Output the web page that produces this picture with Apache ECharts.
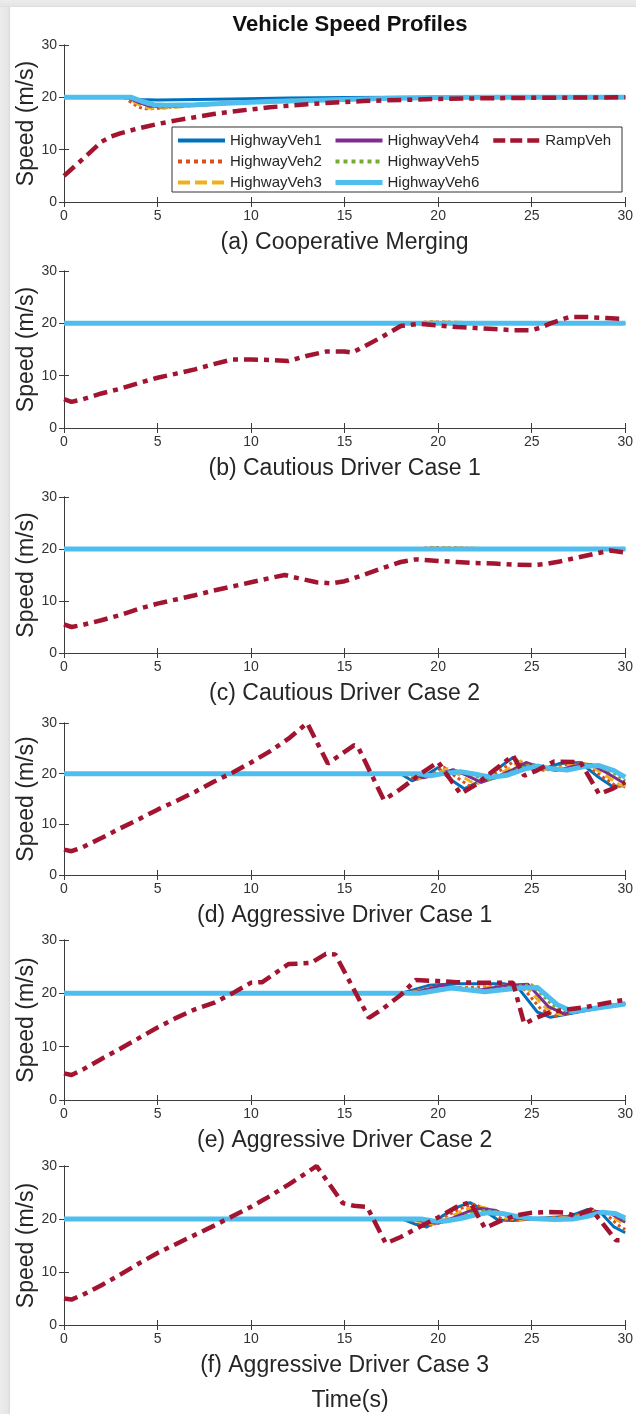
<!DOCTYPE html>
<html><head><meta charset="utf-8">
<script src="https://cdn.jsdelivr.net/npm/echarts@6/dist/echarts.min.js"></script>
<style>html,body{margin:0;padding:0;background:#fff}#c{width:636px;height:1414px}</style>
</head><body><div id="c"></div>
<script>
// ---------------- DATA ----------------
const seriesNames = ['HighwayVeh1','HighwayVeh2','HighwayVeh3','HighwayVeh4','HighwayVeh5','HighwayVeh6','RampVeh'];
const panelTitles = ['(a) Cooperative Merging','(b) Cautious Driver Case 1','(c) Cautious Driver Case 2',
  '(d) Aggressive Driver Case 1','(e) Aggressive Driver Case 2','(f) Aggressive Driver Case 3'];
const chartTitle = 'Vehicle Speed Profiles';
const xAxisTitle = 'Time(s)';
const yAxisTitle = 'Speed (m/s)';
const xTicks = [0,5,10,15,20,25,30];
const yTicks = [0,10,20,30];

// (a) Cooperative Merging
const hw1A = [[0,20],[3,20],[3.5,19.8],[4,19.6],[5,19.5],[7,19.6],[9,19.7],[12,19.85],[15,19.95],[18,20],[30,20]];
const hw2A = [[0,20],[3.2,20],[3.6,19],[4,18.1],[4.4,17.8],[5,17.9],[6,18.2],[8,18.7],[10,19.1],[12,19.4],[15,19.7],[18,19.9],[21,20],[30,20]];
const hw3A = [[0,20],[3.3,20],[3.8,19],[4.3,18.1],[4.7,17.9],[5.5,18],[7,18.4],[9,18.9],[11,19.3],[14,19.6],[17,19.85],[21,20],[30,20]];
const hw4A = [[0,20],[3.4,20],[4,19],[4.6,18.3],[5.2,18.2],[6,18.3],[8,18.7],[10,19.1],[13,19.5],[16,19.8],[20,20],[30,20]];
const hw5A = [[0,20],[3.5,20],[4.1,19.1],[4.8,18.3],[5.4,18.2],[6.5,18.4],[8.5,18.8],[11,19.2],[14,19.6],[17,19.85],[21,20],[30,20]];
const hw6A = [[0,20],[3.6,20],[4.2,19.2],[4.8,18.6],[5.5,18.5],[7,18.6],[9,18.9],[11,19.2],[14,19.5],[17,19.8],[20,19.95],[23,20],[30,20]];
const rampA = [[0,5],[1,8.2],[2,11.5],[2.5,12.5],[3,13.1],[4,14.1],[5,14.9],[6,15.6],[7,16.2],[8,16.8],[9,17.3],[10,17.7],[11,18.1],[12,18.4],[13,18.7],[14,18.9],[15,19.1],[16,19.3],[18,19.5],[20,19.7],[22,19.8],[25,19.9],[30,20]];

// (b) Cautious Driver Case 1
const hw1B = [[0,20],[30,20]];
const hw2B = [[0,20],[18.5,20],[19.5,20.3],[21,20.2],[22,20],[30,20]];
const hw3B = [[0,20],[18.7,20],[19.7,20.25],[21.2,20.2],[22.2,20],[30,20]];
const hw4B = [[0,20],[30,20]];
const hw5B = [[0,20],[30,20]];
const hw6B = [[0,20],[30,20]];
const rampB = [[0,5.5],[0.4,5],[1,5.5],[2,6.6],[3,7.5],[4,8.6],[5,9.6],[6,10.4],[7,11.2],[8,12.2],[9,13.1],[10,13.1],[11,13],[12,12.8],[13,13.8],[14,14.6],[15,14.6],[15.4,14.4],[16,15.5],[17,17.4],[18,19.5],[19,19.9],[20,19.6],[21,19.3],[22,19.1],[23,18.9],[24,18.7],[25,18.7],[25.5,19.2],[26,20],[27,21.2],[28,21.2],[29,21],[30,20.8]];

// (c) Cautious Driver Case 2
const hw1C = [[0,20],[30,20]];
const hw2C = [[0,20],[18.8,20],[19.6,20.3],[21.5,20.2],[22.3,20],[30,20]];
const hw3C = [[0,20],[19,20],[19.8,20.25],[21.7,20.2],[22.5,20],[30,20]];
const hw4C = [[0,20],[30,20]];
const hw5C = [[0,20],[30,20]];
const hw6C = [[0,20],[30,20]];
const rampC = [[0,5.5],[0.4,5],[1,5.4],[2,6.3],[3,7.3],[4,8.5],[5,9.5],[6,10.3],[7,11.1],[8,12],[9,12.8],[10,13.6],[11,14.4],[11.8,15],[12.5,14.4],[13.5,13.6],[14.3,13.4],[15,13.8],[16,15],[17,16.3],[18,17.5],[18.8,18],[20,17.7],[21,17.5],[22,17.3],[23,17.2],[24,17],[25,16.9],[25.7,17.1],[26.5,17.6],[27.5,18.4],[28.5,19.2],[29.2,19.7],[30,19.3]];

// (d) Aggressive Driver Case 1
const hw1D = [[0,20],[18,20],[18.6,18.6],[19.3,19.6],[20,21.2],[20.6,19],[21.4,17],[22.2,18.5],[23,20.5],[24,23.2],[24.8,21],[25.5,20.8],[26.5,22],[27.6,22.2],[28.5,19.5],[29.3,17.5],[30,17.6]];
const hw2D = [[0,20],[18.2,20],[18.8,18.8],[19.6,19.8],[20.3,21.3],[20.9,19.5],[21.7,17.5],[22.5,18.9],[23.3,20.6],[24.2,22.8],[25,21.2],[25.7,20.6],[26.8,21.8],[27.8,22],[28.7,19.6],[29.5,17.6],[30,17.4]];
const hw3D = [[0,20],[18.4,20],[19,19],[19.8,19.8],[20.5,21],[21.2,19.6],[22,17.9],[22.8,19],[23.6,20.6],[24.4,22.5],[25.2,21.3],[26,20.7],[27,21.6],[28,21.9],[28.9,19.8],[29.7,17.8],[30,17.6]];
const hw4D = [[0,20],[18.6,20],[19.2,19.2],[20,19.9],[20.8,20.8],[21.5,19.7],[22.3,18.3],[23.1,19.3],[24,20.8],[24.7,22.2],[25.5,21.2],[26.3,20.6],[27.3,21.5],[28.2,21.8],[29.1,20],[29.9,18.2],[30,18.1]];
const hw5D = [[0,20],[18.8,20],[19.4,19.4],[20.2,20],[21,20.6],[21.8,19.8],[22.6,18.7],[23.4,19.5],[24.3,20.9],[25,21.9],[25.8,21.1],[26.6,20.6],[27.6,21.4],[28.4,21.7],[29.3,20.3],[30,18.6]];
const hw6D = [[0,20],[19,20],[19.6,19.6],[20.4,20.1],[21.2,20.4],[22,19.9],[22.8,19.3],[23.7,19.7],[24.6,20.9],[25.3,21.5],[26,21],[26.9,20.7],[27.8,21.4],[28.6,21.6],[29.4,20.6],[30,19.3]];
const rampD = [[0,5],[0.4,4.7],[1,5.5],[2,7.3],[3,9.2],[4,11],[5,12.9],[6,14.6],[7,16.4],[8,18.4],[9,20.2],[10,22.2],[11,24.4],[12,26.9],[13,30],[14.1,22],[15.5,25.6],[15.7,25.4],[17.1,14.8],[18,17],[19,19.8],[20,22.3],[21.2,16],[22,17.8],[23,20.7],[24,23.6],[24.6,19.6],[25.2,20.5],[26.2,22.4],[27.6,22.3],[28.6,16],[29.3,17],[30,18.3]];

// (e) Aggressive Driver Case 2
const hw1E = [[0,20],[18,20],[19.5,21.5],[21,21.8],[23.5,21.8],[24.2,21.4],[25.3,16.5],[26,15.5],[28,16.8],[30,18.2]];
const hw2E = [[0,20],[18.2,20],[19.8,21.4],[21,21],[22.5,21.2],[24.4,21.6],[25.5,17],[26.3,15.8],[28,17],[30,18.2]];
const hw3E = [[0,20],[18.4,20],[20,21.2],[21.5,20.6],[23,21.3],[24.6,21.6],[25.7,17.4],[26.5,16],[28,17],[30,18.1]];
const hw4E = [[0,20],[18.6,20],[20.2,21.5],[22,20.5],[23.5,21.4],[24.8,21.7],[25.9,17.5],[26.7,16.2],[28,17.1],[30,18.1]];
const hw5E = [[0,20],[18.8,20],[20.5,21],[22.5,20.4],[24,21.3],[25,21.6],[26.1,17.8],[27,16.4],[30,18]];
const hw6E = [[0,20],[19,20],[20.7,21],[22.5,20.3],[24.3,21],[25.3,21.1],[26.4,17.8],[27.2,16.6],[30,18]];
const rampE = [[0,5],[0.4,4.7],[1,5.7],[2,7.7],[3,9.6],[4,11.6],[5,13.6],[6,15.4],[7,17],[8,18.2],[9,20],[10,22],[10.6,22.1],[11.3,23.8],[12,25.5],[12.7,25.6],[13.2,25.7],[14,27.4],[14.5,27.3],[16.3,15.4],[17,17],[18,19.7],[18.8,22.5],[20,22.3],[21,22.1],[22,22],[23,22],[24,22],[24.6,14.3],[25.3,15.5],[26,16.5],[27,17],[28,17.5],[29,18.2],[30,18.8]];

// (f) Aggressive Driver Case 3
const hw1F = [[0,20],[18.1,20],[18.8,19],[19.4,18.5],[20.2,20.5],[21,22.2],[21.7,23.1],[22.5,21.5],[23.2,19.8],[24,19.7],[25,20],[26,20.3],[27,20.5],[28,21.8],[28.7,21.2],[29.4,18.5],[30,17.4]];
const hw2F = [[0,20],[18.3,20],[19,19.2],[19.6,18.8],[20.4,20.5],[21.2,22],[21.9,22.8],[22.7,21.7],[23.4,20],[24.2,19.8],[25.2,20.1],[26.2,20.2],[27.2,20.5],[28.1,21.6],[28.9,21.2],[29.6,18.9],[30,18]];
const hw3F = [[0,20],[18.5,20],[19.2,19.3],[19.8,19],[20.6,20.3],[21.4,21.7],[22.1,22.4],[22.9,21.8],[23.6,20.2],[24.4,19.9],[25.4,20],[26.4,20.2],[27.4,20.4],[28.2,21.5],[29,21.2],[29.8,19.3],[30,18.8]];
const hw4F = [[0,20],[18.7,20],[19.4,19.4],[20,19.2],[20.8,20.2],[21.6,21.4],[22.3,22],[23.1,21.6],[23.8,20.4],[24.6,20],[25.6,20],[26.6,20.1],[27.6,20.4],[28.4,21.4],[29.2,21.1],[30,19.4]];
const hw5F = [[0,20],[18.9,20],[19.6,19.5],[20.2,19.4],[21,20.1],[21.8,21.1],[22.5,21.6],[23.3,21.3],[24,20.5],[24.8,20],[26,19.9],[27,20.1],[27.8,20.4],[28.6,21.3],[29.4,21],[30,19.8]];
const hw6F = [[0,20],[19.1,20],[19.8,19.6],[20.4,19.6],[21.2,20.1],[22,20.8],[22.7,21.2],[23.5,21],[24.2,20.5],[25,20.1],[26.2,19.9],[27.2,20],[28,20.5],[28.8,21.3],[29.5,21],[30,20.2]];
const rampF = [[0,5],[0.4,4.8],[1,5.7],[2,7.5],[3,9.5],[4,11.6],[5,13.6],[6,15.3],[7,17],[8,18.7],[9,20.5],[10,22.3],[11,24.3],[12,26.5],[13,28.8],[13.5,30],[14.9,23],[15.5,22.5],[16.2,22.3],[17.2,15.4],[18,16.6],[19,18.5],[20,20.3],[21,22.3],[21.7,23.2],[22.5,18.3],[23.3,19.6],[24.2,20.7],[25,21.2],[26,21.3],[26.8,21.2],[27.3,20.6],[28.2,21.8],[29.5,16],[30,16]];

const panels = [
  [hw1A,hw2A,hw3A,hw4A,hw5A,hw6A,rampA],
  [hw1B,hw2B,hw3B,hw4B,hw5B,hw6B,rampB],
  [hw1C,hw2C,hw3C,hw4C,hw5C,hw6C,rampC],
  [hw1D,hw2D,hw3D,hw4D,hw5D,hw6D,rampD],
  [hw1E,hw2E,hw3E,hw4E,hw5E,hw6E,rampE],
  [hw1F,hw2F,hw3F,hw4F,hw5F,hw6F,rampF]
];

// ---------------- STYLE / LAYOUT ----------------
const FONT = '"Liberation Sans", Arial, Helvetica, sans-serif';
const TXT = '#262626';
const AX = '#3c3c3c';
const styles = [
  {color:'#0072BD', width:3, type:'solid', lw:4},
  {color:'#D95319', width:3, type:'dotted', lw:4},
  {color:'#EDB120', width:3, type:[9,5], lw:4},
  {color:'#7E2F8E', width:3, type:'solid', lw:4},
  {color:'#77AC30', width:3, type:'dotted', lw:4},
  {color:'#4DBEEE', width:5, type:'solid', lw:5},
  {color:'#A2142F', width:4.5, type:[14,6,5,6], lw:4.5}
];
const legendDash = [null, [4,4], [12,5], null, [4,4], null, [12,5]];
const panelTops = [45, 271, 497, 723, 940, 1166];
const panelHeights = [157, 157, 156, 152, 160, 159];
const gridLeft = 64, gridRight = 9;

const grid = [], xAxis = [], yAxis = [], series = [];
panels.forEach((p, i) => {
  grid.push({left: gridLeft, right: gridRight, top: panelTops[i], height: panelHeights[i]});
  const common = {
    gridIndex: i, type: 'value', min: xTicks[0], max: xTicks[xTicks.length-1], interval: xTicks[1]-xTicks[0],
    axisLine: {lineStyle: {color: AX, width: 1}},
    axisTick: {inside: true, length: 5, lineStyle: {color: AX}},
    splitLine: {show: false}
  };
  xAxis.push(Object.assign({}, common, {
    position: 'bottom',
    axisLabel: {color: '#333', fontSize: 14, fontFamily: FONT, margin: 7},
    name: panelTitles[i], nameLocation: 'middle', nameGap: 29, nameMoveOverlap: false,
    nameTextStyle: {color: TXT, fontSize: 23, fontFamily: FONT}
  }));
  xAxis.push(Object.assign({}, common, {position: 'top', axisLabel: {show: false}}));
  const ycommon = {
    gridIndex: i, type: 'value', min: yTicks[0], max: yTicks[yTicks.length-1], interval: yTicks[1]-yTicks[0],
    axisLine: {show: true, lineStyle: {color: AX, width: 1}},
    axisTick: {show: true, inside: true, length: 5, lineStyle: {color: AX}},
    splitLine: {show: false}
  };
  yAxis.push(Object.assign({}, ycommon, {
    position: 'left',
    axisLabel: {color: '#333', fontSize: 14, fontFamily: FONT, margin: 7},
    name: yAxisTitle, nameLocation: 'middle', nameGap: 26, nameMoveOverlap: false,
    nameTextStyle: {color: TXT, fontSize: 23, fontFamily: FONT}
  }));
  yAxis.push(Object.assign({}, ycommon, {position: 'right', axisLabel: {show: false}}));
  p.forEach((d, k) => {
    series.push({
      name: seriesNames[k], type: 'line', xAxisIndex: 2*i, yAxisIndex: 2*i,
      data: d, symbol: 'none', showSymbol: false, clip: true,
      lineStyle: {color: styles[k].color, width: styles[k].width, type: styles[k].type, cap: 'butt'},
      itemStyle: {color: styles[k].color},
      z: 2 + k * 0.01
    });
  });
});

const legendItem = k => ({
  name: seriesNames[k],
  itemStyle: {opacity: 0},
  lineStyle: {color: styles[k].color, width: styles[k].lw, type: legendDash[k] || 'solid', opacity: 1}
});
const legendCommon = {
  orient: 'vertical', selectedMode: false, padding: 0, itemGap: 6,
  itemWidth: 47, itemHeight: 14,
  textStyle: {color: TXT, fontSize: 15, fontFamily: FONT},
  top: 133, z: 10
};
const legend = [
  Object.assign({}, legendCommon, {left: 176, data: [0,1,2].map(legendItem)}),
  Object.assign({}, legendCommon, {left: 333, data: [3,4,5].map(legendItem)}),
  Object.assign({}, legendCommon, {left: 491, data: [6].map(legendItem)})
];

const chart = echarts.init(document.getElementById('c'), null, {renderer: 'canvas'});
chart.setOption({
  animation: false,
  backgroundColor: '#fff',
  title: [
    {text: chartTitle, left: 345, top: 9, textAlign: 'center',
     textStyle: {fontSize: 22, fontWeight: 'bold', color: '#111', fontFamily: FONT}},
    {text: xAxisTitle, left: 345, top: 1384, textAlign: 'center',
     textStyle: {fontSize: 23, fontWeight: 'normal', color: TXT, fontFamily: FONT}}
  ],
  grid, xAxis, yAxis, series, legend,
  graphic: [
    {type: 'rect', shape: {x: 172, y: 127, width: 450, height: 65},
     style: {fill: '#fff', stroke: '#333', lineWidth: 1}, z: 5},
    {type: 'rect', shape: {x: 0, y: 0, width: 10, height: 1414},
     style: {fill: new echarts.graphic.LinearGradient(0,0,1,0,[{offset:0,color:'#ececec'},{offset:0.8,color:'#e6e6e6'},{offset:1,color:'#d8d8d8'}])}, z: 20, silent: true},
    {type: 'rect', shape: {x: 0, y: 0, width: 636, height: 7},
     style: {fill: new echarts.graphic.LinearGradient(0,0,0,1,[{offset:0,color:'#ececec'},{offset:0.8,color:'#e6e6e6'},{offset:1,color:'#dadada'}])}, z: 20, silent: true}
  ]
});
</script>
</body></html>
